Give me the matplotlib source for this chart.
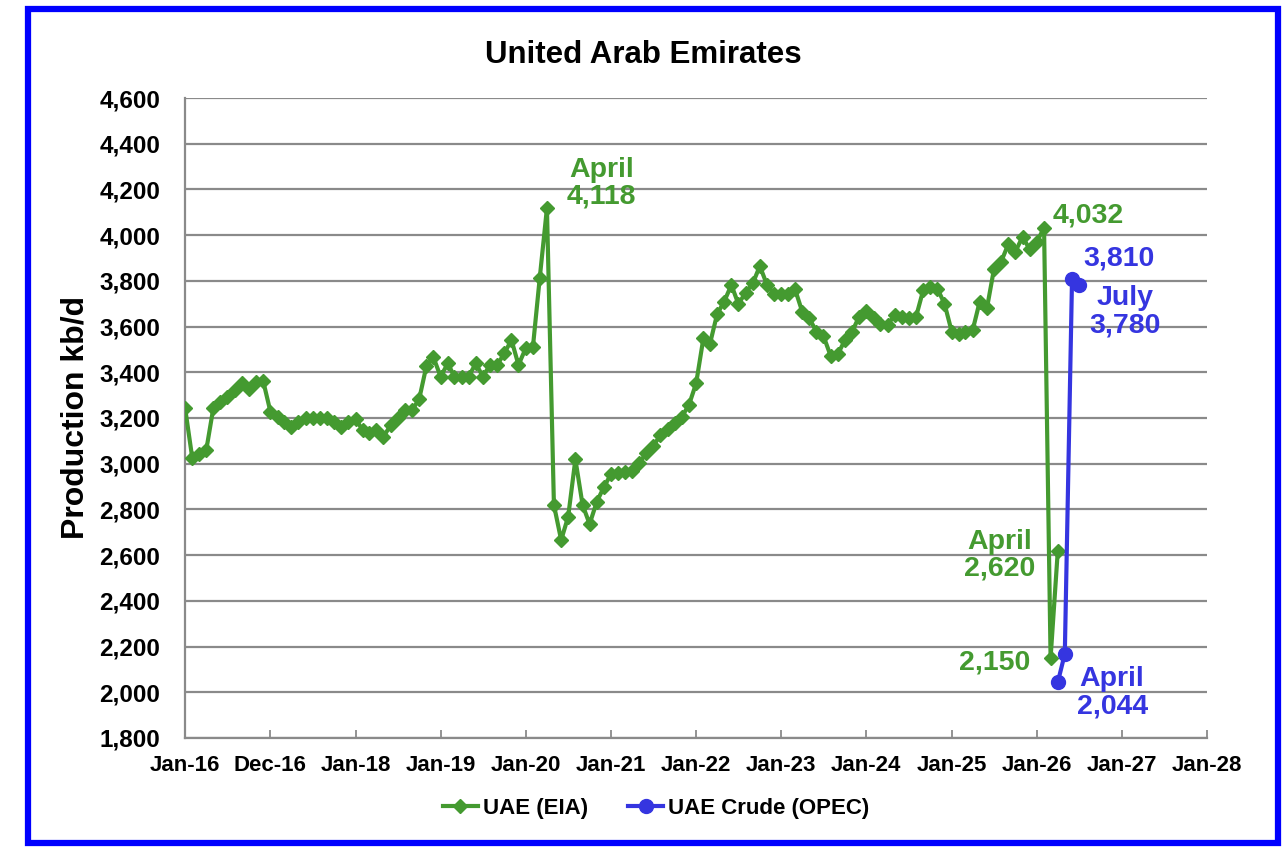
import matplotlib
matplotlib.use('Agg')
import matplotlib.pyplot as plt
from matplotlib.patches import Rectangle
import pandas as pd

plt.rcParams['font.family'] = ['Liberation Sans', 'DejaVu Sans']
plt.rcParams['font.weight'] = 'bold'

# monthly production, kb/d
eia_start = '2016-01-01'
eia_values = [
    3245, 3024, 3042, 3060, 3242, 3271, 3293, 3322, 3352, 3325, 3359, 3362,
    3228, 3203, 3184, 3159, 3184, 3198, 3198, 3198, 3198, 3184, 3159, 3184,
    3196, 3147, 3133, 3147, 3118, 3169, 3198, 3235, 3235, 3282, 3427, 3466,
    3381, 3439, 3381, 3381, 3381, 3439, 3381, 3432, 3432, 3483, 3541, 3432,
    3505, 3512, 3811, 4118, 2819, 2666, 2768, 3019, 2819, 2736, 2834, 2897,
    2955, 2961, 2965, 2969, 3002, 3046, 3077, 3126, 3150, 3179, 3206, 3257,
    3352, 3549, 3524, 3655, 3709, 3782, 3699, 3748, 3789, 3865, 3782, 3743,
    3743, 3743, 3763, 3665, 3636, 3578, 3559, 3471, 3480, 3541, 3578, 3644,
    3670, 3636, 3611, 3607, 3651, 3643, 3636, 3643, 3760, 3774, 3765, 3700,
    3578, 3567, 3575, 3585, 3709, 3680, 3850, 3884, 3961, 3928, 3993, 3938,
    3971, 4032, 2150, 2620,
]
opec_start = '2026-04-01'
opec_values = [2044, 2168, 3810, 3780]

tick_years = list(range(2016, 2029))
tick_labels = ['Jan-16', 'Dec-16', 'Jan-18', 'Jan-19', 'Jan-20', 'Jan-21', 'Jan-22',
               'Jan-23', 'Jan-24', 'Jan-25', 'Jan-26', 'Jan-27', 'Jan-28']

eia_dates = pd.date_range(eia_start, periods=len(eia_values), freq='MS')
opec_dates = pd.date_range(opec_start, periods=len(opec_values), freq='MS')

green = '#449a30'
blue = '#3535e0'

fig = plt.figure(figsize=(12.86, 8.56), dpi=100)
ax = fig.add_axes([0.1439, 0.1379, 0.7947, 0.7476])

ax.plot(eia_dates, eia_values, color=green, lw=3, marker='D', ms=7.5,
        label='UAE (EIA)', zorder=3)
ax.plot(opec_dates, opec_values, color=blue, lw=3, marker='o', ms=10,
        label='UAE Crude (OPEC)', zorder=4)

ax.set_xlim(pd.Timestamp('2016-01-01'), pd.Timestamp('2028-01-01'))
ax.set_ylim(1800, 4600)
ax.set_yticks(range(1800, 4601, 200))
ax.set_yticklabels([f'{v:,}' for v in range(1800, 4601, 200)])
ax.set_xticks([pd.Timestamp(f'{y}-01-01') for y in tick_years])
ax.set_xticklabels(tick_labels)

ax.grid(axis='y', color='#8a8a8a', lw=1.6)
ax.set_axisbelow(True)
for s in ['top', 'right']:
    ax.spines[s].set_visible(False)
for s in ['left', 'bottom']:
    ax.spines[s].set_color('#8a8a8a')
    ax.spines[s].set_linewidth(1.6)
ax.tick_params(axis='x', direction='in', length=6, color='#8a8a8a', width=1.3,
               labelsize=16, pad=12)
ax.tick_params(axis='y', length=0, labelsize=17.5, pad=18)
ax.set_ylabel('Production kb/d', fontsize=23, fontweight='bold', labelpad=6)

fig.text(0.5, 0.936, 'United Arab Emirates', ha='center', va='center',
         fontsize=22.5, fontweight='bold')

ann = dict(fontsize=20.5, fontweight='bold', ha='center', va='center', linespacing=1.05)
ax.text(pd.Timestamp('2020-11-20'), 4228, 'April\n4,118', color=green, **ann)
ax.text(pd.Timestamp('2026-08-10'), 4088, '4,032', color=green, **ann)
ax.text(pd.Timestamp('2026-12-20'), 3896, '3,810', color=blue, **ann)
ax.text(pd.Timestamp('2027-01-15'), 3664, 'July\n3,780', color=blue, **ann)
ax.text(pd.Timestamp('2025-07-25'), 2600, 'April\n2,620', color=green, **ann)
ax.text(pd.Timestamp('2025-07-05'), 2132, '2,150', color=green, **ann)
ax.text(pd.Timestamp('2026-11-20'), 1997, 'April\n2,044', color=blue, **ann)

leg = fig.legend(loc='center', bbox_to_anchor=(0.51, 0.056), ncol=2, frameon=False,
                 fontsize=16, handlelength=1.6, handletextpad=0.2, columnspacing=1.8)
for t in leg.get_texts():
    t.set_fontweight('bold')

fig.patches.append(Rectangle((0.022, 0.015), 0.972, 0.975, transform=fig.transFigure,
                             fill=False, edgecolor='#0000ff', lw=4.5))

fig.savefig('out.png', dpi=100)
